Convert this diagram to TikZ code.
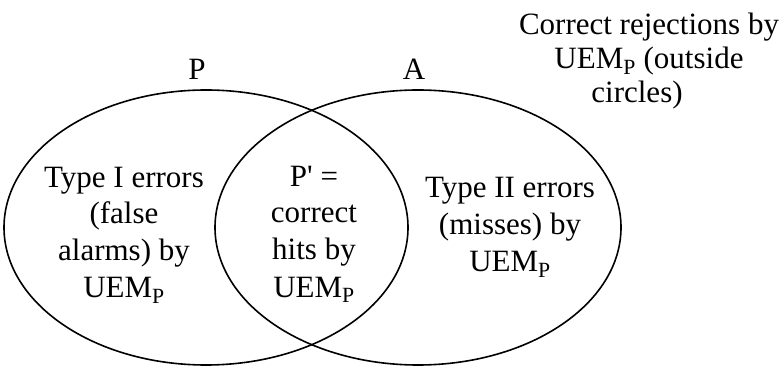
\documentclass[tikz,border=0pt]{standalone}
\usepackage{fontspec}
\setmainfont{Liberation Serif}
\begin{document}
\begin{tikzpicture}[x=1pt,y=-1pt,
  setline/.style={line width=1.6pt, black},
  region/.style={align=center, inner sep=0pt, anchor=base,
    font=\fontsize{31}{37}\selectfont},
  setname/.style={inner sep=0pt, anchor=base, font=\fontsize{31}{37}\selectfont}]
\useasboundingbox (0,0) rectangle (782,366);
% the two sets
\draw[setline] (206,227.5) ellipse [x radius=202, y radius=137.5];
\draw[setline] (418,227.5) ellipse [x radius=203, y radius=137.5];
% set names
\node[setname] (p) at (197,80) {P};
\node[setname] (a) at (414,80) {A};
% region labels (anchored at the baseline of their last line)
\node[region] (typeone) at (124,298) {Type I errors\\(false\\alarms) by\\UEM\textsubscript{P}};
\node[region] (hits) at (314,297) {P\textquotesingle{} =\\correct\\hits by\\UEM\textsubscript{P}};
\node[region] (typetwo) at (510,272) {Type II errors\\(misses) by\\UEM\textsubscript{P}};
\node[region, font=\fontsize{31}{34}\selectfont] (reject) at (649,103)
  {Correct rejections by\\UEM\textsubscript{P} (outside\\circles)\hspace*{24pt}};
\end{tikzpicture}
\end{document}
